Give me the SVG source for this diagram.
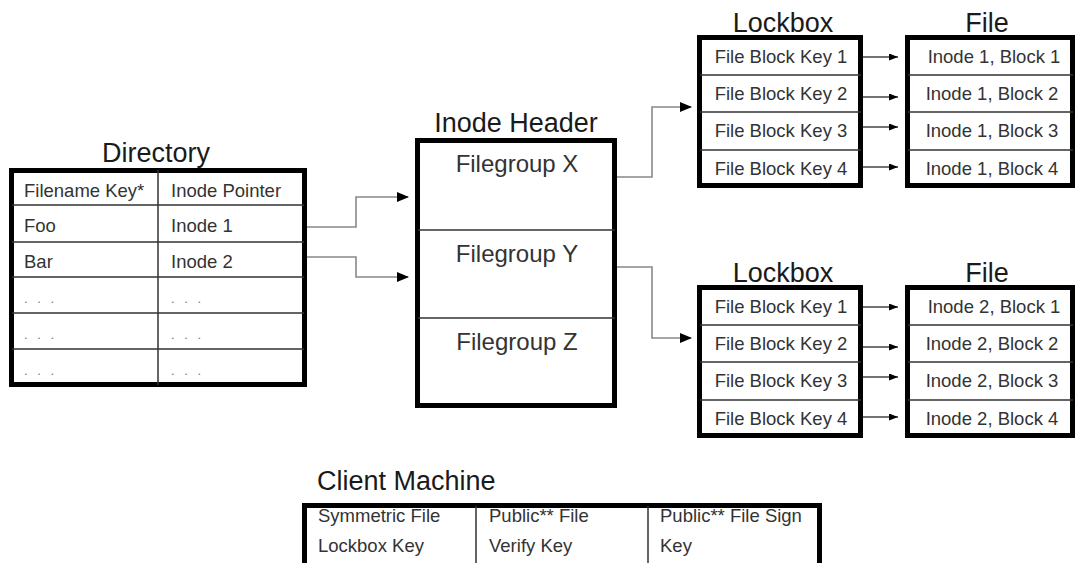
<svg xmlns="http://www.w3.org/2000/svg" width="1077" height="563" viewBox="0 0 1077 563">
<style>
text{font-family:"Liberation Sans",Arial,sans-serif;fill:#1a1a1a}
.title{font-size:27px}
.fg{font-size:24px;fill:#333}
.cell{font-size:18.5px;fill:#333}
.dots{font-size:13px;fill:#777;letter-spacing:3px}
.frame{fill:#fff;stroke:#000;stroke-width:5}
.grid{stroke:#333;stroke-width:1.5;fill:none}
.conn{stroke:#888;stroke-width:1.6;fill:none}
.small{stroke:#444;stroke-width:1.3;fill:none}
</style>
<defs>
<marker id="ah" markerUnits="userSpaceOnUse" markerWidth="12" markerHeight="10" refX="11" refY="5" orient="auto">
<path d="M0,0 L12,5 L0,10 z" fill="#000"/>
</marker>
<marker id="ahs" markerUnits="userSpaceOnUse" markerWidth="9" markerHeight="7" refX="9" refY="3.5" orient="auto">
<path d="M0,0 L9,3.5 L0,7 z" fill="#000"/>
</marker>
</defs>
<rect width="1077" height="563" fill="#fff"/>

<g id="directory">
<text class="title" x="156" y="162" text-anchor="middle">Directory</text>
<rect class="frame" x="11.5" y="170.5" width="293" height="214"/>
<path class="grid" d="M158,170 V385 M12,205 H304 M12,242 H304 M12,277 H304 M12,313 H304 M12,349 H304"/>
<text class="cell" x="24" y="197">Filename Key*</text>
<text class="cell" x="171" y="197">Inode Pointer</text>
<text class="cell" x="24" y="232">Foo</text>
<text class="cell" x="171" y="232">Inode 1</text>
<text class="cell" x="24" y="268">Bar</text>
<text class="cell" x="171" y="268">Inode 2</text>
<text class="dots" x="24" y="303">. . .</text>
<text class="dots" x="171" y="303">. . .</text>
<text class="dots" x="24" y="339">. . .</text>
<text class="dots" x="171" y="339">. . .</text>
<text class="dots" x="24" y="375">. . .</text>
<text class="dots" x="171" y="375">. . .</text>
</g>

<g id="inode-header">
<text class="title" x="516" y="132" text-anchor="middle">Inode Header</text>
<rect class="frame" x="417.5" y="140.5" width="197" height="265"/>
<path class="grid" d="M418,230 H615 M418,318 H615"/>
<text class="fg" x="517" y="172" text-anchor="middle">Filegroup X</text>
<text class="fg" x="517" y="262" text-anchor="middle">Filegroup Y</text>
<text class="fg" x="517" y="350" text-anchor="middle">Filegroup Z</text>
</g>

<g id="lockbox-1">
<text class="title" x="783" y="32" text-anchor="middle">Lockbox</text>
<rect class="frame" x="699.5" y="37.5" width="161" height="148"/>
<path class="grid" d="M700,75 H861 M700,112 H861 M700,150 H861"/>
<text class="cell" x="781" y="63" text-anchor="middle">File Block Key 1</text>
<text class="cell" x="781" y="100" text-anchor="middle">File Block Key 2</text>
<text class="cell" x="781" y="137" text-anchor="middle">File Block Key 3</text>
<text class="cell" x="781" y="175" text-anchor="middle">File Block Key 4</text>
</g>

<g id="file-1">
<text class="title" x="987" y="32" text-anchor="middle">File</text>
<rect class="frame" x="907.5" y="37.5" width="165" height="148"/>
<path class="grid" d="M908,75 H1073 M908,112 H1073 M908,150 H1073"/>
<text class="cell" x="994" y="63" text-anchor="middle">Inode 1, Block 1</text>
<text class="cell" x="992" y="100" text-anchor="middle">Inode 1, Block 2</text>
<text class="cell" x="992" y="137" text-anchor="middle">Inode 1, Block 3</text>
<text class="cell" x="992" y="175" text-anchor="middle">Inode 1, Block 4</text>
</g>

<g id="lockbox-2">
<text class="title" x="783" y="282" text-anchor="middle">Lockbox</text>
<rect class="frame" x="699.5" y="287.5" width="161" height="148"/>
<path class="grid" d="M700,325 H861 M700,362 H861 M700,400 H861"/>
<text class="cell" x="781" y="313" text-anchor="middle">File Block Key 1</text>
<text class="cell" x="781" y="350" text-anchor="middle">File Block Key 2</text>
<text class="cell" x="781" y="387" text-anchor="middle">File Block Key 3</text>
<text class="cell" x="781" y="425" text-anchor="middle">File Block Key 4</text>
</g>

<g id="file-2">
<text class="title" x="987" y="282" text-anchor="middle">File</text>
<rect class="frame" x="907.5" y="287.5" width="165" height="148"/>
<path class="grid" d="M908,325 H1073 M908,362 H1073 M908,400 H1073"/>
<text class="cell" x="994" y="313" text-anchor="middle">Inode 2, Block 1</text>
<text class="cell" x="992" y="350" text-anchor="middle">Inode 2, Block 2</text>
<text class="cell" x="992" y="387" text-anchor="middle">Inode 2, Block 3</text>
<text class="cell" x="992" y="425" text-anchor="middle">Inode 2, Block 4</text>
</g>

<g id="client-machine">
<text class="title" x="317" y="490">Client Machine</text>
<rect class="frame" x="304.5" y="505.5" width="515" height="80"/>
<path class="grid" d="M476,506 V563 M648,506 V563"/>
<text class="cell" x="318" y="522">Symmetric File</text>
<text class="cell" x="318" y="552">Lockbox Key</text>
<text class="cell" x="489" y="522">Public** File</text>
<text class="cell" x="489" y="552">Verify Key</text>
<text class="cell" x="660" y="522">Public** File Sign</text>
<text class="cell" x="660" y="552">Key</text>
</g>

<g id="connectors">
<path class="conn" d="M307,227 H356 V197 H408" marker-end="url(#ah)"/>
<path class="conn" d="M307,257 H356 V277 H408" marker-end="url(#ah)"/>
<path class="conn" d="M617,177 H652 V107 H691" marker-end="url(#ah)"/>
<path class="conn" d="M617,267 H652 V338 H691" marker-end="url(#ah)"/>
<path class="small" d="M863,57 H898" marker-end="url(#ahs)"/>
<path class="small" d="M863,97 H898" marker-end="url(#ahs)"/>
<path class="small" d="M863,127 H898" marker-end="url(#ahs)"/>
<path class="small" d="M863,167 H898" marker-end="url(#ahs)"/>
<path class="small" d="M863,307 H898" marker-end="url(#ahs)"/>
<path class="small" d="M863,347 H898" marker-end="url(#ahs)"/>
<path class="small" d="M863,377 H898" marker-end="url(#ahs)"/>
<path class="small" d="M863,417 H898" marker-end="url(#ahs)"/>
</g>
</svg>
